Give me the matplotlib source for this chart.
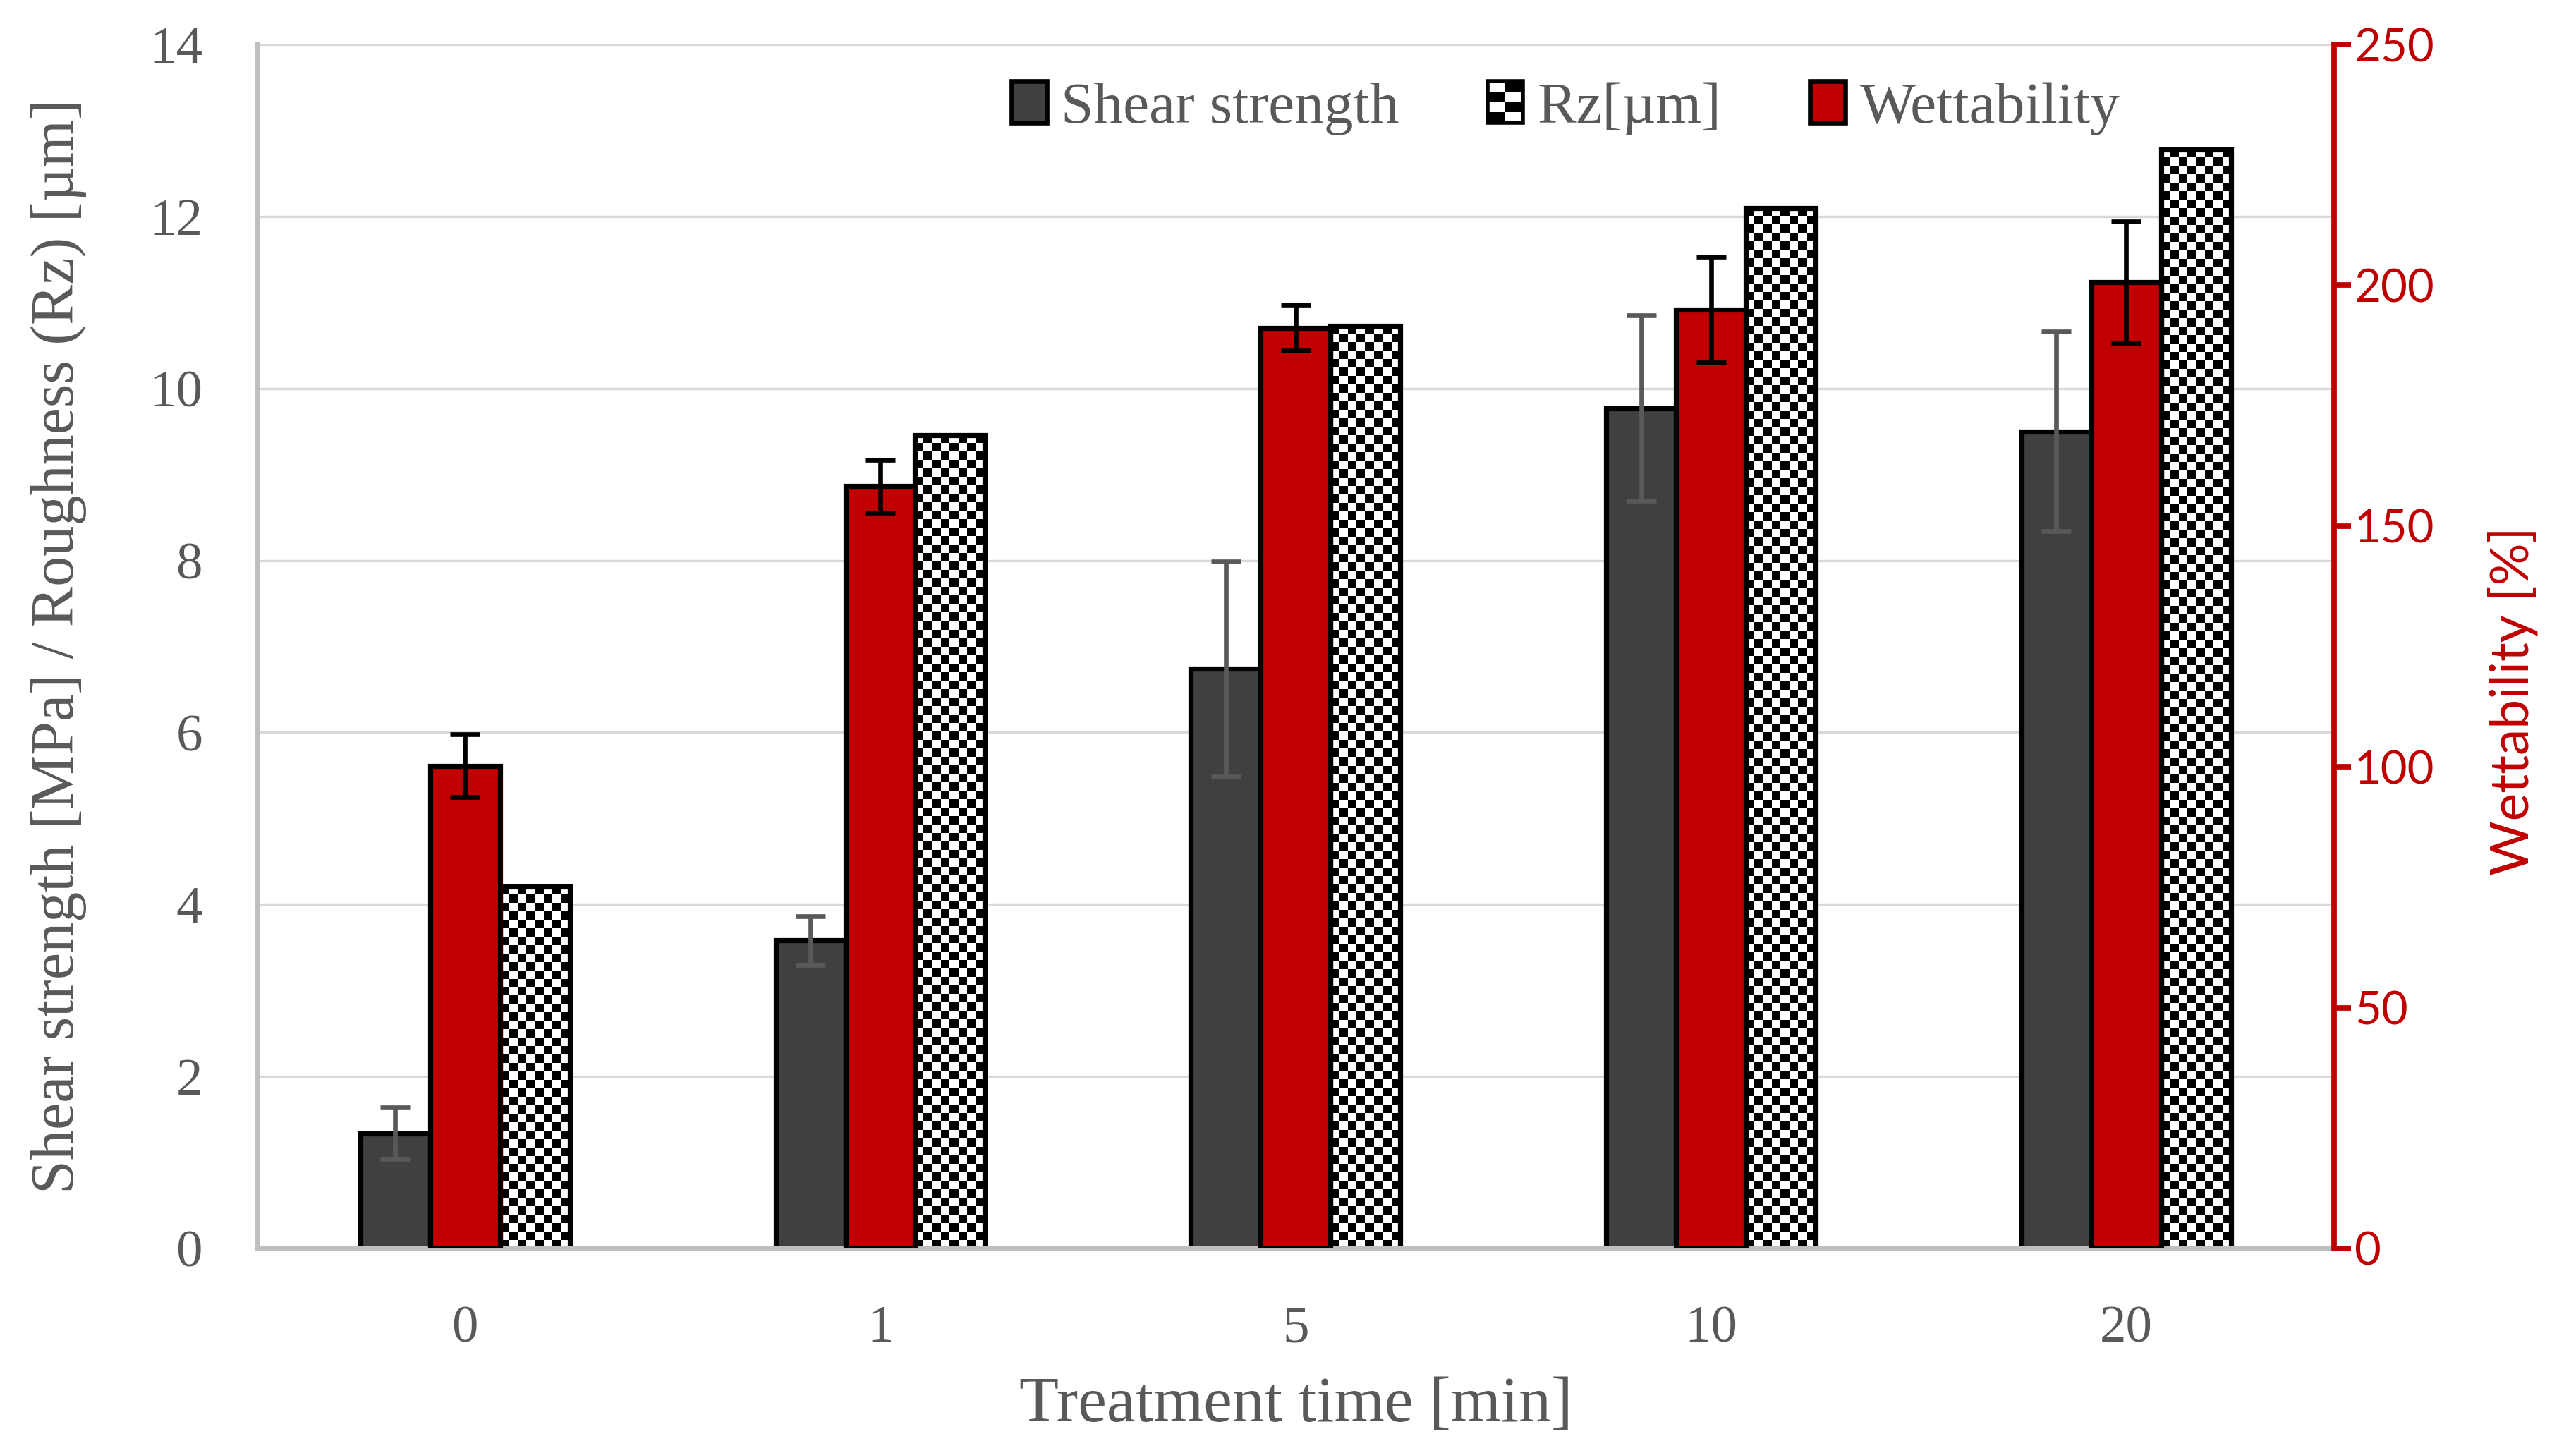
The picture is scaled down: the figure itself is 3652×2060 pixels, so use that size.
import numpy as np
import matplotlib
matplotlib.use("Agg")
import matplotlib.pyplot as plt
from matplotlib.patches import Rectangle, Patch
from matplotlib.legend_handler import HandlerBase

# ---------------- data ----------------
categories = ["0", "1", "5", "10", "20"]
shear_strength = [1.34, 3.58, 6.74, 9.77, 9.50]
shear_err = [0.30, 0.28, 1.25, 1.08, 1.16]
rz_um = [4.21, 9.46, 10.73, 12.10, 12.78]
wettability = [100.2, 158.3, 191.2, 194.9, 200.6]
wett_err = [6.5, 5.5, 4.8, 11.0, 12.7]
left_ticks = [0, 2, 4, 6, 8, 10, 12, 14]
right_ticks = [0, 50, 100, 150, 200, 250]

GRAY_TXT = "#595959"
RED = "#C00000"
DARK = "#404040"

SERIF = ["Liberation Serif", "DejaVu Serif"]
SANS = ["Lato", "DejaVu Sans"]

DPI = 200
fig = plt.figure(figsize=(3652 / DPI, 2060 / DPI), dpi=DPI)
fig.subplots_adjust(left=0.0999, right=0.906, top=0.9694, bottom=0.1408)
ax = fig.add_subplot(111)
ax2 = ax.twinx()

x = np.arange(len(categories))
w = 0.168
EDGE_LW = 2.6

ax.set_xlim(-0.5, len(categories) - 0.5)
ax.set_ylim(0, 14)
ax2.set_ylim(0, 250)

# grid
ax.set_yticks(left_ticks)
ax.yaxis.grid(True, color="#D9D9D9", linewidth=1.2, zorder=0)
ax.set_axisbelow(True)

# shear strength bars
ax.bar(x - w, shear_strength, w, color=DARK, edgecolor="black", linewidth=EDGE_LW, zorder=2)
ax.errorbar(x - w, shear_strength, yerr=shear_err, fmt="none", ecolor=GRAY_TXT,
            elinewidth=2.4, capsize=7.5, capthick=2.4, zorder=4)

# Rz bars (checkerboard)
rz_bars = ax.bar(x + w, rz_um, w, color="white", edgecolor="none", linewidth=0, zorder=2)
fig.canvas.draw()
cell = 12.0  # px
for b in rz_bars:
    x0, y0 = b.get_x(), b.get_y()
    x1, y1 = x0 + b.get_width(), y0 + b.get_height()
    p0 = ax.transData.transform((x0, y0))
    p1 = ax.transData.transform((x1, y1))
    nx = max(1, int(round((p1[0] - p0[0]) / cell)))
    ny = max(1, int(round((p1[1] - p0[1]) / cell)))
    checker = (np.indices((ny, nx)).sum(axis=0) % 2).astype(float)
    im = ax.imshow(checker, cmap="gray", vmin=0, vmax=1, extent=(x0, x1, y0, y1),
                   interpolation="nearest", aspect="auto", zorder=2.1, origin="lower")
    im.set_clip_path(b)
ax.bar(x + w, rz_um, w, fill=False, edgecolor="black", linewidth=EDGE_LW, zorder=2.2)
ax.set_xlim(-0.5, len(categories) - 0.5)
ax.set_ylim(0, 14)

# wettability bars
ax2.bar(x, wettability, w, color=RED, edgecolor="black", linewidth=EDGE_LW, zorder=2)
ax2.errorbar(x, wettability, yerr=wett_err, fmt="none", ecolor="black",
             elinewidth=2.4, capsize=7.5, capthick=2.4, zorder=4)
ax2.set_ylim(0, 250)

# ---------------- axes styling ----------------
for s in ["top", "right"]:
    ax.spines[s].set_visible(False)
for s in ["top", "left", "bottom"]:
    ax2.spines[s].set_visible(False)
ax.spines["left"].set_color("#BFBFBF")
ax.spines["left"].set_linewidth(2.8)
ax.spines["bottom"].set_color("#BFBFBF")
ax.spines["bottom"].set_linewidth(2.8)
ax2.spines["right"].set_color(RED)
ax2.spines["right"].set_linewidth(2.8)

ax.set_xticks(x)
ax.set_xticklabels(categories)
ax.tick_params(axis="x", length=0, pad=29, labelsize=27, labelcolor=GRAY_TXT)
ax.tick_params(axis="y", length=0, pad=28, labelsize=27, labelcolor=GRAY_TXT)
for lab in ax.get_xticklabels() + ax.get_yticklabels():
    lab.set_family(SERIF)

ax2.set_yticks(right_ticks)
ax2.tick_params(axis="y", length=8.5, width=2.8, color=RED, pad=2, labelsize=23.5, labelcolor=RED)
for lab in ax2.get_yticklabels():
    lab.set_family(SANS)

ax.set_xlabel("Treatment time [min]", fontsize=33, color=GRAY_TXT, family=SERIF, labelpad=12)
ax.set_ylabel("Shear strength [MPa] / Roughness (Rz) [µm]", fontsize=31, color=GRAY_TXT,
              family=SERIF, labelpad=32)
ax2.set_ylabel("Wettability [%]", fontsize=27, color=RED, family=SANS, labelpad=27)
ax2.yaxis.label.set_y(0.455)

# ---------------- legend ----------------
class CheckerHandle(Patch):
    pass

class HandlerChecker(HandlerBase):
    def create_artists(self, legend, orig_handle, xdescent, ydescent, width, height,
                       fontsize, trans):
        arts = []
        ncol, nrow = 2, 4
        cw, ch = width / ncol, height / nrow
        for i in range(nrow):
            for j in range(ncol):
                col = "black" if (i + j) % 2 == 0 else "white"
                r = Rectangle((-xdescent + j * cw, -ydescent + i * ch), cw, ch,
                              facecolor=col, edgecolor="none", transform=trans)
                arts.append(r)
        frame = Rectangle((-xdescent, -ydescent), width, height, fill=False,
                          edgecolor="black", linewidth=2.0, transform=trans)
        arts.append(frame)
        return arts

h1 = Patch(facecolor=DARK, edgecolor="black", linewidth=2.4, label="Shear strength")
h2 = CheckerHandle(label="Rz[µm]")
h3 = Patch(facecolor=RED, edgecolor="black", linewidth=2.4, label="Wettability")
leg = ax2.legend(handles=[h1, h2, h3], loc="center", bbox_to_anchor=(0.630, 0.947),
                 bbox_transform=ax2.transAxes, ncol=3, frameon=False,
                 prop={"family": SERIF, "size": 30}, handlelength=0.6, handleheight=0.7,
                 handletextpad=0.25, columnspacing=1.5,
                 handler_map={CheckerHandle: HandlerChecker()})
for t in leg.get_texts():
    t.set_color(GRAY_TXT)

fig.savefig("out.png", dpi=DPI, facecolor="white")
